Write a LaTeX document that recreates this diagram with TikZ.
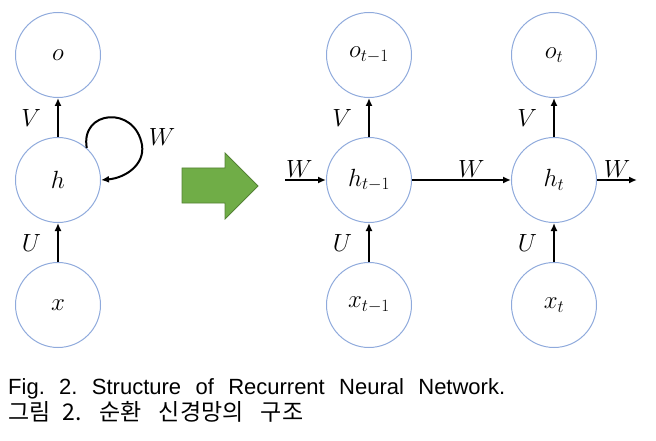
\documentclass[tikz,border=0pt]{standalone}
\usepackage{fontspec}
\setmainfont{Liberation Sans}
\newfontfamily\krfont{Noto Sans CJK KR}
\usepackage{tikz}
\usetikzlibrary{arrows.meta,positioning,calc}
\definecolor{cellblue}{RGB}{143,170,220}
\definecolor{gofill}{RGB}{112,173,71}
\definecolor{goline}{RGB}{84,130,53}
\tikzset{
  cell/.style={circle,draw=cellblue,line width=1pt,minimum size=85pt,inner sep=0pt},
  link/.style={->,line width=2pt},
  wt/.style={inner sep=1pt}
}
\frenchspacing

\begin{document}
\begin{tikzpicture}[x=1pt,y=-1pt,font=\fontsize{25}{29}\selectfont,>={Latex[length=8pt,width=7pt]}]
\useasboundingbox (0,0) rectangle (656,441);
% folded network
\node[cell] (o) at (58,55) {$o$};
\node[cell] (h) at (58,180) {$h$};
\node[cell] (x) at (58,305) {$x$};
\draw[link] (h)--node[wt,left=15pt]{$V$}(o);
\draw[link] (x)--node[wt,left=15pt]{$U$}(h);
\draw[link] (h.48) .. controls (80,110) and (135,105) .. (142,145) .. controls (145,165) and (125,178) .. (h.east);
\node[wt] (wloop) at (162,137) {$W$};
% big arrow
\filldraw[fill=gofill,draw=goline,line width=.8pt] (182,168)--(225,168)--(225,153)--(258,186)--(225,219)--(225,203)--(182,203)--cycle;
% unfolded network
\foreach \c/\x/\s in {a/369/{t-1},b/554/t}{
  \node[cell] (o\c) at (\x,55) {$o_{\s}$};
  \node[cell] (h\c) at (\x,180) {$h_{\s}$};
  \node[cell] (x\c) at (\x,305) {$x_{\s}$};
  \draw[link] (h\c)--node[wt,left=15pt]{$V$}(o\c);
  \draw[link] (x\c)--node[wt,left=15pt]{$U$}(h\c);
}
\coordinate (win) at (285,180);
\coordinate (wout) at (637,180);
\draw[link] (win)--node[wt,above,pos=.35]{$W$}(ha);
\draw[link] (ha)--node[wt,above,pos=.6]{$W$}(hb);
\draw[link] (hb)--node[wt,above,pos=.5]{$W$}(wout);
% caption
\node[anchor=base west,inner sep=0pt,font=\fontsize{22}{26}\selectfont] (cap1) at (8,394)
  {\makebox[497pt][s]{Fig. 2. Structure of Recurrent Neural Network.}};
\node[anchor=base west,inner sep=0pt,font=\krfont\fontsize{23}{26}\selectfont] (cap2) at (8,420)
  {\makebox[295pt][s]{그림\hspace{3pt plus 2pt}2. 순환 신경망의 구조}};
\end{tikzpicture}
\end{document}
